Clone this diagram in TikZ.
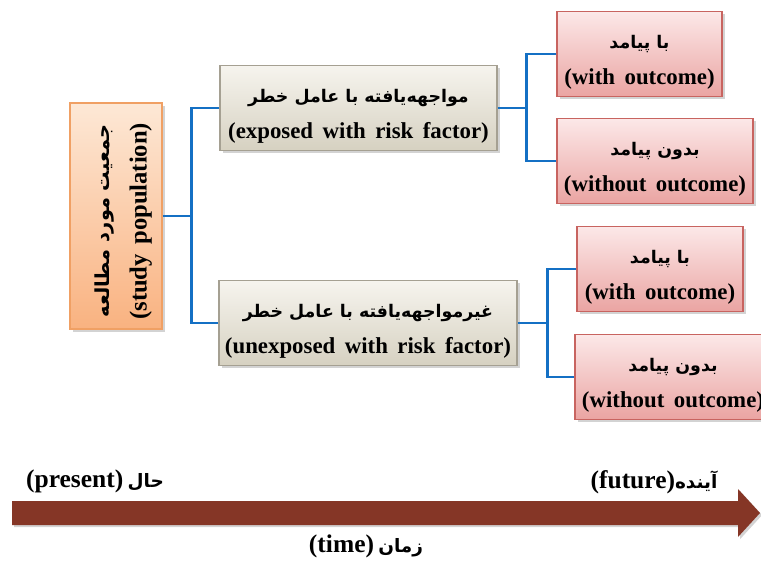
\documentclass[tikz,border=0pt]{standalone}
\usepackage{fontspec}
\setmainfont{Liberation Serif}
\newfontfamily\fa[Script=Arabic]{DejaVu Sans}
\TeXXeTstate=1
\usetikzlibrary{shadows}

\definecolor{linkblue}{RGB}{20,112,196}
\definecolor{timebrown}{RGB}{133,54,38}
\definecolor{popedge}{RGB}{240,160,100}
\definecolor{poptop}{RGB}{253,232,214}
\definecolor{popbottom}{RGB}{249,178,128}
\definecolor{greyedge}{RGB}{165,160,146}
\definecolor{greytop}{RGB}{246,244,238}
\definecolor{greybottom}{RGB}{214,209,193}
\definecolor{pinkedge}{RGB}{200,100,96}
\definecolor{pinktop}{RGB}{252,232,232}
\definecolor{pinkbottom}{RGB}{234,164,162}

% wider gaps between English words
\newcommand{\widespace}{\spaceskip=5.4pt plus 1pt\relax}
% Persian first line of a box (strut pushes the pair of lines a bit down)
\newcommand{\faline}[2][9.9]{{\fa\fontsize{#1}{21}\selectfont\bfseries\spaceskip=0pt\vrule width 0pt height 17pt\beginR #2\endR}}
\newcommand{\fatime}[1]{{\fa\fontsize{10.5}{15}\selectfont\bfseries\beginR #1\endR}}

\tikzset{
  basebox/.style={draw, line width=0.8pt, align=center, inner sep=1pt,
    font=\fontsize{13}{21}\selectfont\bfseries\widespace,
    drop shadow={opacity=0.35, shadow xshift=1.6pt, shadow yshift=-1.6pt}},
  popbox/.style={basebox, draw=popedge, top color=poptop, bottom color=popbottom,
    font=\fontsize{14}{21}\selectfont\bfseries\widespace,
    rotate=90, minimum width=4.52cm, minimum height=1.84cm},
  groupbox/.style={basebox, draw=greyedge, top color=greytop, bottom color=greybottom,
    minimum height=1.7cm},
  outbox/.style={basebox, draw=pinkedge, top color=pinktop, bottom color=pinkbottom,
    minimum height=1.7cm},
  link/.style={draw=linkblue, line width=1.6pt},
  timelabel/.style={font=\fontsize{14.5}{16}\selectfont\bfseries, inner sep=0pt}
}

\begin{document}
\begin{tikzpicture}[x=0.02cm, y=-0.02cm]

		\useasboundingbox (0,0) rectangle (761,561);

		% --- study population (rotated, text sits a little low) ---
		\node[popbox] (pop) at (116,216) {\faline[11]{جمعیت مورد مطالعه}\hspace*{6pt}\\(study population)\hspace*{6pt}};

		% --- exposure groups ---
		\node[groupbox, minimum width=5.54cm] (exp) at (358.5,108) {\faline{مواجهه‌یافته با عامل خطر}\\(exposed with risk factor)};
		\node[groupbox, minimum width=5.96cm] (unexp) at (368,323) {\faline{غیرمواجهه‌یافته با عامل خطر}\\(unexposed with risk factor)};

		% --- outcomes ---
		\node[outbox, minimum width=3.3cm] (expyes) at (639.5,54) {\faline{با پیامد}\\(with outcome)};
		\node[outbox, minimum width=3.92cm] (expno) at (655,161) {\faline{بدون پیامد}\\(without outcome)};
		\node[outbox, minimum width=3.32cm] (unyes) at (660,269) {\faline{با پیامد}\\(with outcome)};
		\node[outbox, minimum width=3.92cm] (unno) at (673,377) {\faline{بدون پیامد}\\(without outcome)};

		% --- connectors (pop.south is the right side after rotation) ---
		\draw[link] (pop.south) -- ++(30,0);
		\draw[link] (exp.west) -- ++(-28,0) |- (unexp.west);
		\draw[link] (exp.east) -- ++(30,0);
		\draw[link] (expyes.west) -- ++(-30,0) |- (expno.west);
		\draw[link] (unexp.east) -- ++(30,0);
		\draw[link] (unyes.west) -- ++(-29,0) |- (unno.west);

		% --- time arrow ---
		\fill[timebrown, drop shadow={opacity=0.35, shadow xshift=1.2pt, shadow yshift=-1.2pt}]
			(12,501) -- (738,501) -- (738,489) -- (760,513) -- (738,537) -- (738,525) -- (12,525) -- cycle;
		\node[timelabel] (present) at (95,481) {(present)\,\fatime{حال}};
		\node[timelabel] (future) at (654,482) {(future)\fatime{آینده}};
		\node[timelabel] (time) at (366,546) {(time)\,\fatime{زمان}};

\end{tikzpicture}
\end{document}
